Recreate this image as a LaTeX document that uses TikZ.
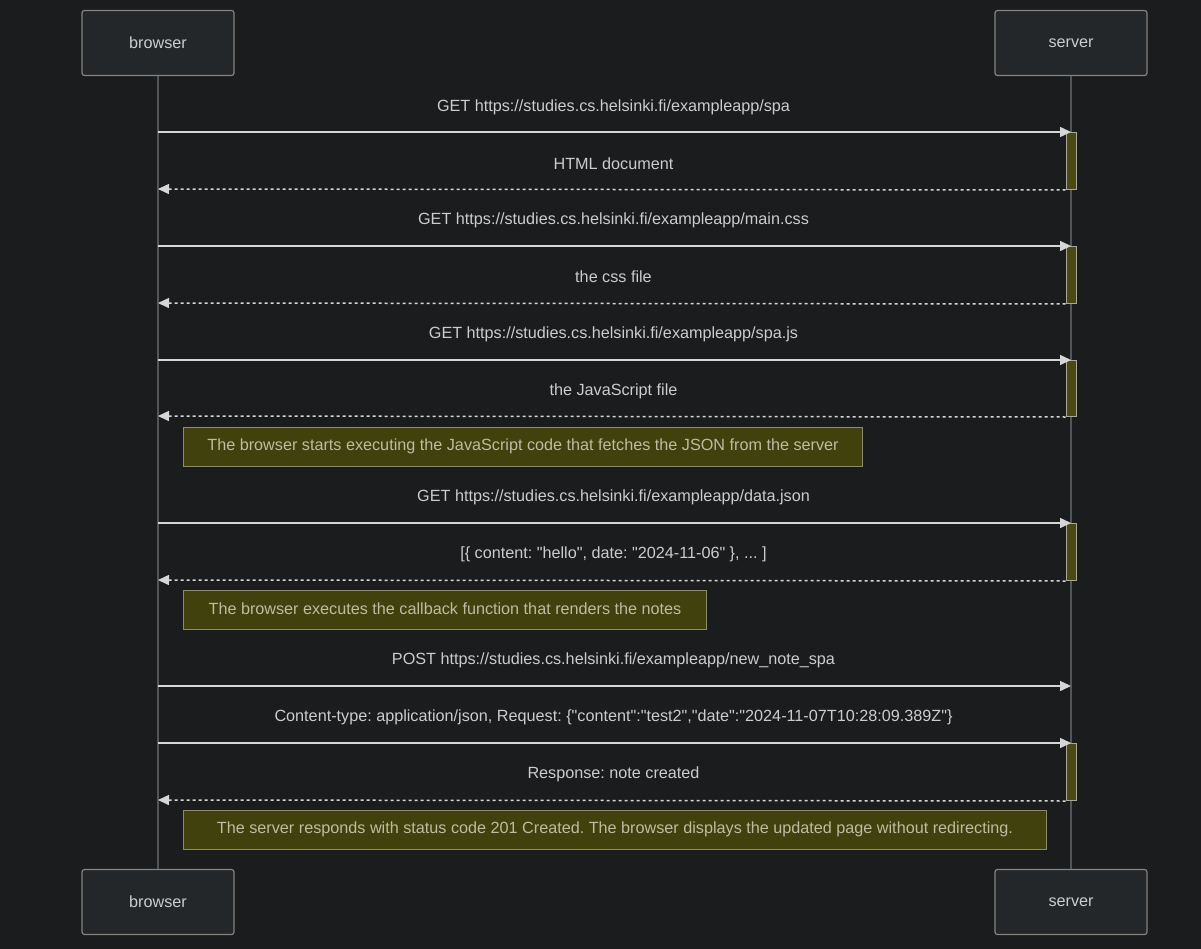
\documentclass[tikz,border=0pt]{standalone}
\usepackage{fontspec}
\setmainfont{Liberation Sans}
% a family with no TeX ligature mapping, so " stays a straight quote
\newfontfamily\msgfont{Liberation Sans}
\usetikzlibrary{arrows.meta}
\frenchspacing
\definecolor{bg}{HTML}{1B1C1E}
\definecolor{actorfill}{HTML}{24272A}
\definecolor{actorline}{HTML}{84837D}
\definecolor{lifeline}{HTML}{51565A}
\definecolor{msgtext}{HTML}{CCCCCC}
\definecolor{msgline}{HTML}{D6D6D6}
\definecolor{notefill}{HTML}{41410E}
\definecolor{noteline}{HTML}{8C8B6E}
\definecolor{notetext}{HTML}{BDBCA2}
\definecolor{actfill}{HTML}{4A4A14}
\definecolor{actline}{HTML}{A9A89A}
\tikzset{
  actor/.style={draw=actorline, fill=actorfill, line width=1.2pt, rounded corners=2.5pt,
    minimum width=152pt, minimum height=65pt, inner sep=0pt, text=msgtext,
    font=\msgfont\fontsize{16.2}{19}\selectfont},
  life/.style={draw=lifeline, line width=1.5pt},
  actbar/.style={draw=actline, fill=actfill, line width=1pt, minimum width=10pt, inner sep=0pt, anchor=north},
  msglabel/.style={text=msgtext, font=\msgfont\fontsize{16.2}{19}\selectfont, inner sep=0pt},
  call/.style={draw=msgline, line width=1.5pt, -{Triangle[length=11pt,width=10pt]}},
  reply/.style={draw=msgline, line width=1.5pt, dash pattern=on 3pt off 3pt, -{Triangle[length=11pt,width=10pt]}},
  note/.style={draw=noteline, fill=notefill, line width=1pt, inner sep=0pt, minimum height=39pt,
    anchor=north west, text=notetext},
}
\begin{document}
\begin{tikzpicture}[x=1pt,y=-1pt]
  \path[fill=bg] (0,0) rectangle (1201,949);

  % participants
  \node[actor] (bt) at (158,43) {browser};
  \node[actor] (st) at (1071,43) {server};
  \node[actor] (bb) at (158,902) {browser};
  \node[actor] (sb) at (1071,902) {server};
  \draw[life] (bt.south) -- (bb.north);
  \draw[life] (st.south) -- (sb.north);

  % activation bars on the server
  \node[actbar, minimum height=57pt] (a1) at (1071,132) {};
  \node[actbar, minimum height=57pt] (a2) at (1071,246) {};
  \node[actbar, minimum height=56pt] (a3) at (1071,360) {};
  \node[actbar, minimum height=57pt] (a4) at (1071,523) {};
  \node[actbar, minimum height=57pt] (a5) at (1071,743) {};

  % end points on the browser lifeline
  \coordinate (b1) at (158,132);
  \coordinate (b2) at (158,189);
  \coordinate (b3) at (158,246);
  \coordinate (b4) at (158,303);
  \coordinate (b5) at (158,360);
  \coordinate (b6) at (158,416);
  \coordinate (b7) at (158,523);
  \coordinate (b8) at (158,580);
  \coordinate (b9) at (158,686);
  \coordinate (s9) at (1071,686);
  \coordinate (b10) at (158,743);
  \coordinate (b11) at (158,800);

  % messages
  \node[msglabel] (m1) at (613.5,107) {GET https://studies.cs.helsinki.fi/exampleapp/spa};
  \draw[call] (b1) -- (a1.north);
  \node[msglabel] (m2) at (613.5,164) {HTML document};
  \draw[reply] (a1.south west) -- (b2);

  \node[msglabel] (m3) at (613.5,220) {GET https://studies.cs.helsinki.fi/exampleapp/main.css};
  \draw[call] (b3) -- (a2.north);
  \node[msglabel] (m4) at (613.5,277) {the css file};
  \draw[reply] (a2.south west) -- (b4);

  \node[msglabel] (m5) at (613.5,334) {GET https://studies.cs.helsinki.fi/exampleapp/spa.js};
  \draw[call] (b5) -- (a3.north);
  \node[msglabel] (m6) at (613.5,391) {the JavaScript file};
  \draw[reply] (a3.south west) -- (b6);

  \node[note, minimum width=679pt] (n1) at (183,427) {};
  \node[msglabel, text=notetext] (n1t) at ([yshift=1pt]n1.center) {The browser starts executing the JavaScript code that fetches the JSON from the server};

  \node[msglabel] (m7) at (613.5,497) {GET https://studies.cs.helsinki.fi/exampleapp/data.json};
  \draw[call] (b7) -- (a4.north);
  \node[msglabel] (m8) at (613.5,554) {[\{ content: "hello", date: "2024-11-06" \}, ... ]};
  \draw[reply] (a4.south west) -- (b8);

  \node[note, minimum width=523pt] (n2) at (183,590) {};
  \node[msglabel, text=notetext] (n2t) at ([yshift=1pt]n2.center) {The browser executes the callback function that renders the notes};

  \node[msglabel] (m9) at (613.5,660) {POST https://studies.cs.helsinki.fi/exampleapp/new\_note\_spa};
  \draw[call] (b9) -- (s9);

  \node[msglabel] (m10) at (613.5,717) {Content-type: application/json, Request: \{"content":"test2","date":"2024-11-07T10:28:09.389Z"\}};
  \draw[call] (b10) -- (a5.north);
  \node[msglabel] (m11) at (613.5,774) {Response: note created};
  \draw[reply] (a5.south west) -- (b11);

  \node[note, minimum width=863pt] (n3) at (183,810) {};
  \node[msglabel, text=notetext] (n3t) at ([yshift=1pt]n3.center) {The server responds with status code 201 Created. The browser displays the updated page without redirecting.};
\end{tikzpicture}
\end{document}
